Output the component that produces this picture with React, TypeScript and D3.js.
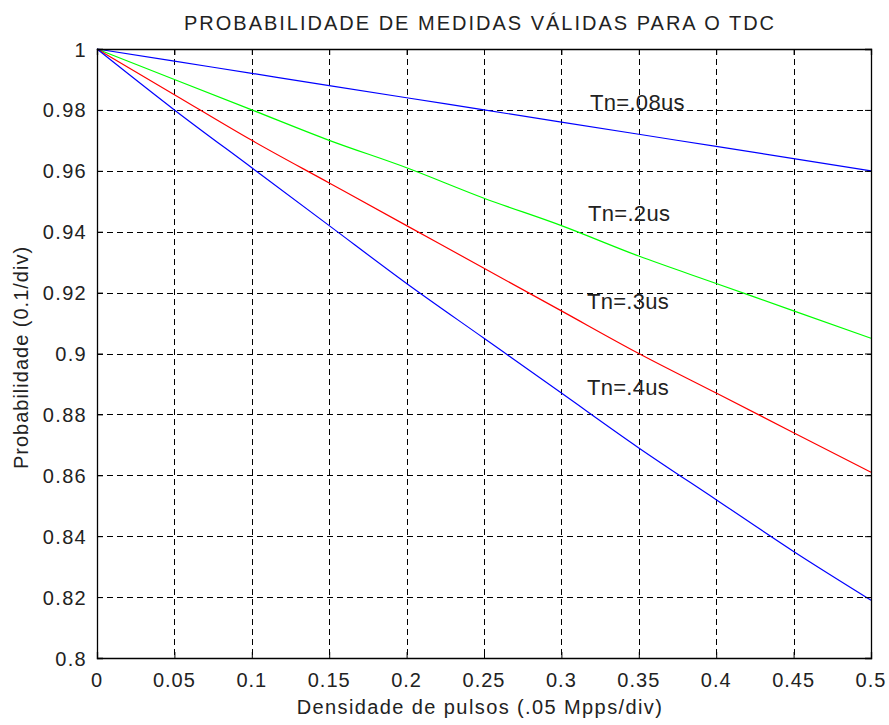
import React, { useEffect, useRef } from "react";
import * as d3 from "d3";

const xValues = [0, 0.05, 0.1, 0.15, 0.2, 0.25, 0.3, 0.35, 0.4, 0.45, 0.5];

// probability values for each Tn
const tn08 = [1, 0.996, 0.992, 0.988, 0.984, 0.98, 0.976, 0.972, 0.968, 0.964, 0.96];
const tn2 = [1, 0.99, 0.98, 0.97, 0.961, 0.951, 0.942, 0.932, 0.923, 0.914, 0.905];
const tn3 = [1, 0.985, 0.97, 0.956, 0.942, 0.928, 0.914, 0.9, 0.887, 0.874, 0.861];
const tn4 = [1, 0.98, 0.961, 0.942, 0.923, 0.905, 0.887, 0.869, 0.852, 0.835, 0.819];

const seriesValues = [tn08, tn2, tn3, tn4];
const seriesColors = ["#0000ff", "#00ff00", "#ff0000", "#0000ff"];

const xTicks = [0, 0.05, 0.1, 0.15, 0.2, 0.25, 0.3, 0.35, 0.4, 0.45, 0.5];
const yTicks = [0.8, 0.82, 0.84, 0.86, 0.88, 0.9, 0.92, 0.94, 0.96, 0.98, 1];

const labelTexts = ["Tn=.08us", "Tn=.2us", "Tn=.3us", "Tn=.4us"];
const labelX = [0.3185, 0.3172, 0.3165, 0.3165];
const labelY = [0.98, 0.9435, 0.9146, 0.8864];

export default function App() {
  const svgRef = useRef<SVGSVGElement>(null);

  useEffect(() => {
    document.body.style.margin = "0";
    document.body.style.overflow = "hidden";
    if (!svgRef.current) return;
    const svg = d3.select(svgRef.current);
    svg.selectAll("*").remove();

    const width = 889;
    const height = 725;
    const margin = { top: 49, right: 18, bottom: 67, left: 97 };
    const font = "'Liberation Sans', Arial, sans-serif";

    const x = d3.scaleLinear().domain([0, 0.5]).range([margin.left, width - margin.right]);
    const y = d3.scaleLinear().domain([0.8, 1]).range([height - margin.bottom, margin.top]);
    const fmt = (v: number) => String(+v.toFixed(2));

    svg.append("rect").attr("width", width).attr("height", height).attr("fill", "#fff");

    // grid
    const grid = svg.append("g").attr("stroke", "#000").attr("stroke-dasharray", "6,4").attr("stroke-width", 1);
    xTicks.slice(1, -1).forEach(t => {
      grid.append("line")
        .attr("x1", Math.round(x(t)) + 0.5).attr("x2", Math.round(x(t)) + 0.5)
        .attr("y1", y(1)).attr("y2", y(0.8));
    });
    yTicks.slice(1, -1).forEach(t => {
      grid.append("line")
        .attr("x1", x(0)).attr("x2", x(0.5))
        .attr("y1", Math.round(y(t)) + 0.5).attr("y2", Math.round(y(t)) + 0.5);
    });

    // curves
    const line = d3.line<number>()
      .x((d, i) => x(xValues[i]))
      .y(d => y(d))
      .curve(d3.curveMonotoneX);

    seriesValues.forEach((vals, i) => {
      svg.append("path")
        .datum(vals)
        .attr("fill", "none")
        .attr("stroke", seriesColors[i])
        .attr("stroke-width", 1.2)
        .attr("d", line);
    });

    // frame with inward ticks on every side
    const axisB = d3.axisBottom(x).tickValues(xTicks).tickSize(-6).tickFormat(() => "");
    const axisL = d3.axisLeft(y).tickValues(yTicks).tickSize(-6).tickFormat(() => "");
    const axisT = d3.axisTop(x).tickValues(xTicks).tickSize(-6).tickFormat(() => "");
    const axisR = d3.axisRight(y).tickValues(yTicks).tickSize(-6).tickFormat(() => "");

    const gB = svg.append("g").attr("transform", `translate(0,${y(0.8)})`).call(axisB);
    const gL = svg.append("g").attr("transform", `translate(${x(0)},0)`).call(axisL);
    const gT = svg.append("g").attr("transform", `translate(0,${y(1)})`).call(axisT);
    const gR = svg.append("g").attr("transform", `translate(${x(0.5)},0)`).call(axisR);

    [gB, gL, gT, gR].forEach(g => {
      g.select(".domain").attr("stroke", "#000").attr("stroke-width", 1.3);
      g.selectAll(".tick line").attr("stroke", "#000");
    });

    // tick labels
    xTicks.forEach(t => {
      svg.append("text")
        .attr("x", x(t)).attr("y", 687)
        .attr("text-anchor", "middle")
        .style("font-family", font).style("font-size", "20px").style("letter-spacing", "1px")
        .attr("fill", "#222")
        .text(fmt(t));
    });
    yTicks.forEach(t => {
      svg.append("text")
        .attr("x", 87).attr("y", y(t) + 7.5)
        .attr("text-anchor", "end")
        .style("font-family", font).style("font-size", "20px").style("letter-spacing", "1.3px")
        .attr("fill", "#222")
        .text(fmt(t));
    });

    // curve labels
    labelTexts.forEach((t, i) => {
      svg.append("text")
        .attr("x", x(labelX[i]))
        .attr("y", y(labelY[i]))
        .style("font-family", font)
        .style("font-size", "22px")
        .style("letter-spacing", "0.3px")
        .attr("fill", "#222")
        .text(t);
    });

    // title and axis labels
    svg.append("text")
      .attr("x", 480).attr("y", 30)
      .attr("text-anchor", "middle")
      .style("font-family", font).style("font-size", "20px").style("letter-spacing", "2px")
      .attr("fill", "#222")
      .text("PROBABILIDADE DE MEDIDAS VÁLIDAS PARA O TDC");

    svg.append("text")
      .attr("x", 480).attr("y", 714)
      .attr("text-anchor", "middle")
      .style("font-family", font).style("font-size", "20px").style("letter-spacing", "1.4px")
      .attr("fill", "#222")
      .text("Densidade de pulsos (.05 Mpps/div)");

    svg.append("text")
      .attr("transform", `translate(28,${(y(0.8) + y(1)) / 2 + 4}) rotate(-90)`)
      .attr("text-anchor", "middle")
      .style("font-family", font).style("font-size", "20px").style("letter-spacing", "1px")
      .attr("fill", "#222")
      .text("Probabilidade (0.1/div)");
  }, []);

  return (
    <svg ref={svgRef} width={889} height={725} style={{ display: "block" }} />
  );
}
